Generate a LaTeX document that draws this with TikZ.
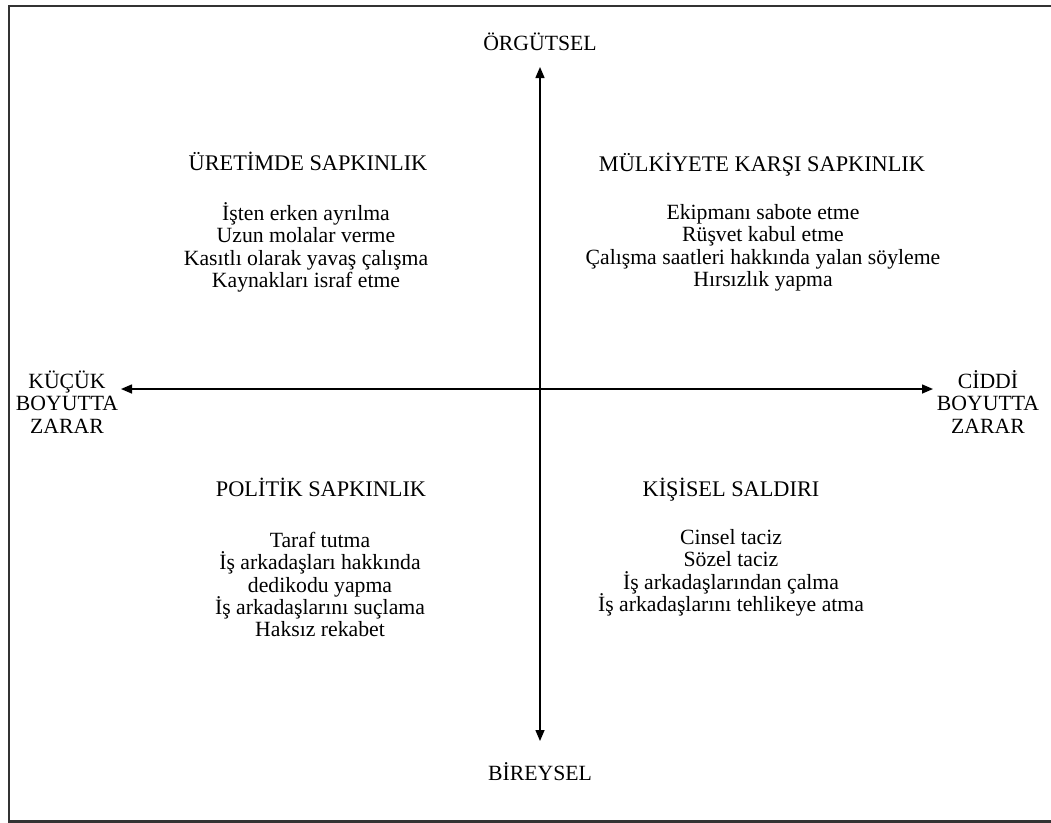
\documentclass[tikz,border=0pt]{standalone}
\usepackage{fontspec}
\setmainfont{Liberation Serif}
\usetikzlibrary{arrows.meta}
% keep a fixed line distance even for lines with accented capitals
\lineskiplimit=-20pt
\begin{document}
\begin{tikzpicture}[x=0.5bp,y=-0.5bp,
  lbl/.style={inner sep=0pt,align=center,font=\fontsize{10.9}{11.25}\selectfont},
  head/.style={lbl,anchor=base,font=\fontsize{11.2}{11.5}\selectfont},
  axis/.style={line width=0.75bp,-{Triangle[length=5.5bp,width=4.5bp]}},
  frame/.style={line width=1.2bp,draw=black!80}]
\useasboundingbox (0,0) rectangle (1051,823);
% open frame (left, top, bottom edges)
\draw[frame] (1060,6) -- (9,6) -- (9,821.5) -- (1060,821.5);

% axes
\coordinate (o) at (540,389);
\coordinate (tipN) at (540,67);
\coordinate (tipS) at (540,741);
\coordinate (tipW) at (121,389);
\coordinate (tipE) at (933,389);
\draw[axis] (o) -- (tipN);
\draw[axis] (o) -- (tipS);
\draw[axis] (o) -- (tipW);
\draw[axis] (o) -- (tipE);

% axis labels
\node[lbl] (orgutsel) at (540,42) {ÖRGÜTSEL};
\node[lbl] (bireysel) at (540,772) {BİREYSEL};
\node[lbl] (kucuk) at (67,402) {KÜÇÜK\\BOYUTTA\\ZARAR};
\node[lbl] (ciddi) at (988,402) {CİDDİ\\BOYUTTA\\ZARAR};

% quadrant headings
\node[head] (h1) at (308,170) {ÜRETİMDE SAPKINLIK};
\node[head] (h2) at (762,171) {MÜLKİYETE KARŞI SAPKINLIK};
\node[head] (h3) at (321,496) {POLİTİK SAPKINLIK};
\node[head] (h4) at (731,496) {KİŞİSEL SALDIRI};

% quadrant items
\node[lbl] (i1) at (306,247.5) {İşten erken ayrılma\\Uzun molalar verme\\Kasıtlı olarak yavaş çalışma\\Kaynakları israf etme};
\node[lbl] (i2) at (763,248) {Ekipmanı sabote etme\\Rüşvet kabul etme\\Çalışma saatleri hakkında yalan söyleme\\Hırsızlık yapma};
\node[lbl] (i3) at (320,584.5) {Taraf tutma\\İş arkadaşları hakkında\\dedikodu yapma\\İş arkadaşlarını suçlama\\Haksız rekabet};
\node[lbl] (i4) at (731,573) {Cinsel taciz\\Sözel taciz\\İş arkadaşlarından çalma\\İş arkadaşlarını tehlikeye atma};
\end{tikzpicture}
\end{document}
